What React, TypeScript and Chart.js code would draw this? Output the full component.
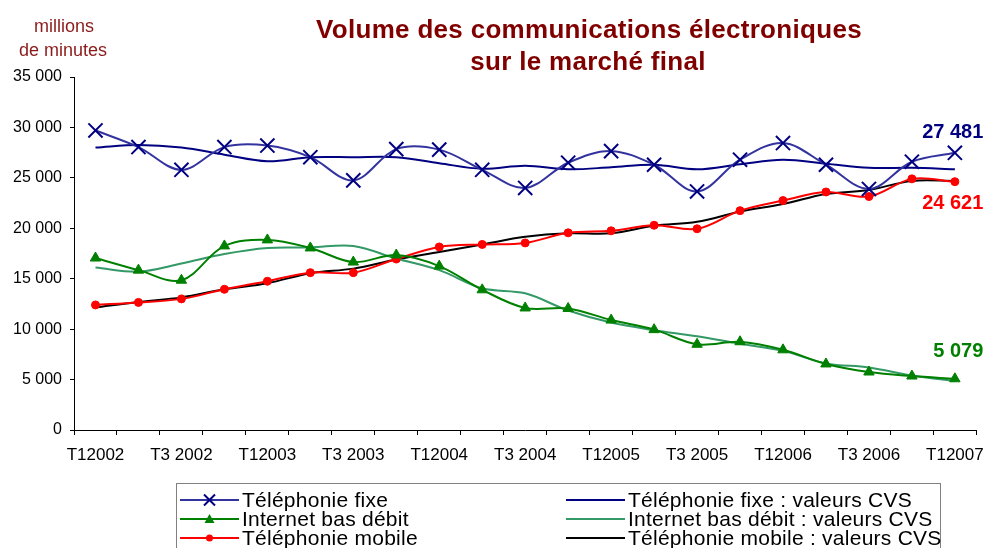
import { useEffect, useRef } from "react";
import { Chart, registerables } from "chart.js";
Chart.register(...registerables);

const categories = [
  "T1 2002", "T2 2002", "T3 2002", "T4 2002",
  "T1 2003", "T2 2003", "T3 2003", "T4 2003",
  "T1 2004", "T2 2004", "T3 2004", "T4 2004",
  "T1 2005", "T2 2005", "T3 2005", "T4 2005",
  "T1 2006", "T2 2006", "T3 2006", "T4 2006",
  "T1 2007",
];
const tickLabels = [
  "T12002", "T3 2002", "T12003", "T3 2003", "T12004", "T3 2004",
  "T12005", "T3 2005", "T12006", "T3 2006", "T12007",
];

const fixe = [29700, 28050, 25800, 28050, 28200, 27050, 24750, 27850, 27800, 25800, 24000, 26500, 27650, 26300, 23650, 26800, 28450, 26300, 23900, 26600, 27481];
const fixeCVS = [28000, 28250, 28000, 27300, 26650, 27050, 27050, 27050, 26450, 25900, 26200, 25850, 26050, 26300, 25850, 26350, 26800, 26400, 26000, 26000, 25850];
const internet = [17050, 15850, 14850, 18250, 18850, 18050, 16650, 17350, 16250, 13900, 12100, 12050, 10900, 9950, 8500, 8750, 7950, 6550, 5750, 5350, 5079];
const internetCVS = [16100, 15700, 16500, 17450, 18050, 18100, 18250, 17000, 15850, 14050, 13550, 11850, 10650, 9900, 9300, 8550, 7850, 6600, 6200, 5400, 4850];
const mobile = [12400, 12650, 13000, 13950, 14750, 15600, 15600, 16950, 18150, 18400, 18550, 19550, 19750, 20300, 19950, 21750, 22750, 23600, 23150, 24900, 24621];
const mobileCVS = [12150, 12700, 13150, 13950, 14550, 15550, 16000, 16900, 17650, 18400, 19150, 19500, 19500, 20250, 20650, 21650, 22400, 23400, 23800, 24700, 24700];

const titleLines = ["Volume des communications électroniques", "sur le marché final"];
const unitLines = ["millions", "de minutes"];
const endLabels = [
  { text: "27 481", series: fixe, color: "#000080", dy: -20 },
  { text: "24 621", series: mobile, color: "#FF0000", dy: 22 },
  { text: "5 079", series: internet, color: "#008000", dy: -27 },
];

const FONT = "'Liberation Sans', Arial, Helvetica, sans-serif";

const fmt = (v: number) => {
  if (v === 0) return "0";
  const s = String(Math.round(v));
  return s.replace(/\B(?=(\d{3})+(?!\d))/g, " ");
};

type LegendItem = { label: string; color: string; marker: "cross" | "triangle" | "circle" | null; markerColor?: string };
const legendItems: LegendItem[] = [
  { label: "Téléphonie fixe", color: "#3333A0", marker: "cross", markerColor: "#000080" },
  { label: "Internet bas débit", color: "#008000", marker: "triangle", markerColor: "#008000" },
  { label: "Téléphonie mobile", color: "#FF0000", marker: "circle", markerColor: "#FF0000" },
  { label: "Téléphonie fixe : valeurs CVS", color: "#000080", marker: null },
  { label: "Internet bas débit : valeurs CVS", color: "#339966", marker: null },
  { label: "Téléphonie mobile : valeurs CVS", color: "#000000", marker: null },
];

export default function App() {
  const ref = useRef<HTMLCanvasElement>(null);

  useEffect(() => {
    if (!ref.current) return;
    Chart.defaults.font.family = FONT;

    const overlay = {
      id: "overlay",
      afterDraw(chart: any) {
        const ctx: CanvasRenderingContext2D = chart.ctx;
        const ys = chart.scales.y;
        ctx.save();

        // Title
        ctx.fillStyle = "#800000";
        ctx.font = `bold 26px ${FONT}`;
        (ctx as any).letterSpacing = "0.3px";
        ctx.textAlign = "center";
        ctx.textBaseline = "alphabetic";
        ctx.fillText(titleLines[0], 589, 38);
        ctx.fillText(titleLines[1], 588, 70);
        (ctx as any).letterSpacing = "0px";

        // Units
        ctx.fillStyle = "#8B1A1A";
        ctx.font = `18px ${FONT}`;
        ctx.fillText(unitLines[0], 64, 32);
        ctx.fillText(unitLines[1], 63, 56);

        // End labels
        ctx.font = `bold 20px ${FONT}`;
        ctx.textAlign = "right";
        ctx.textBaseline = "middle";
        for (const l of endLabels) {
          const last = l.series.length - 1;
          const py = ys.getPixelForValue(l.series[last]);
          ctx.fillStyle = l.color;
          ctx.fillText(l.text, chart.chartArea.right + 7, py + l.dy);
        }

        // Legend
        const boxL = 176.5, boxT = 483.5, boxR = 940.5;
        ctx.strokeStyle = "#808080";
        ctx.lineWidth = 1;
        ctx.strokeRect(boxL, boxT, boxR - boxL, 100);
        const rows = [500, 519, 538];
        const cols = [{ l0: 180, l1: 239, tx: 242 }, { l0: 566, l1: 625, tx: 628 }];
        ctx.font = `21px ${FONT}`;
        (ctx as any).letterSpacing = "0.25px";
        ctx.textAlign = "left";
        ctx.textBaseline = "middle";
        legendItems.forEach((it, i) => {
          const c = cols[Math.floor(i / 3)];
          const y = rows[i % 3];
          ctx.strokeStyle = it.color;
          ctx.lineWidth = 2;
          ctx.beginPath();
          ctx.moveTo(c.l0, y);
          ctx.lineTo(c.l1, y);
          ctx.stroke();
          const cx = (c.l0 + c.l1) / 2;
          if (it.marker === "cross") {
            ctx.strokeStyle = it.markerColor!;
            ctx.lineWidth = 2;
            const r = 5.5;
            ctx.beginPath();
            ctx.moveTo(cx - r, y - r); ctx.lineTo(cx + r, y + r);
            ctx.moveTo(cx + r, y - r); ctx.lineTo(cx - r, y + r);
            ctx.stroke();
          } else if (it.marker === "triangle") {
            ctx.fillStyle = it.markerColor!;
            ctx.beginPath();
            ctx.moveTo(cx, y - 5);
            ctx.lineTo(cx + 5, y + 4);
            ctx.lineTo(cx - 5, y + 4);
            ctx.closePath();
            ctx.fill();
          } else if (it.marker === "circle") {
            ctx.fillStyle = it.markerColor!;
            ctx.beginPath();
            ctx.arc(cx, y, 3.5, 0, Math.PI * 2);
            ctx.fill();
          }
          ctx.fillStyle = "#000";
          ctx.fillText(it.label, c.tx, y + 1);
        });
        (ctx as any).letterSpacing = "0px";

        ctx.restore();
      },
    };

    const chart = new Chart(ref.current, {
      type: "line",
      data: {
        labels: categories,
        datasets: [
          {
            label: legendItems[0].label, data: fixe, borderColor: "#3333A0", borderWidth: 2,
            pointStyle: "crossRot", pointRadius: 10, pointBorderColor: "#000080", pointBorderWidth: 2,
            pointBackgroundColor: "#000080", tension: 0.35, order: 0,
          },
          {
            label: legendItems[1].label, data: internet, borderColor: "#008000", borderWidth: 2,
            pointStyle: "triangle", pointRadius: 6, pointBorderColor: "#008000", pointBorderWidth: 1,
            pointBackgroundColor: "#008000", tension: 0.35, order: 1,
          },
          {
            label: legendItems[2].label, data: mobile, borderColor: "#FF0000", borderWidth: 2,
            pointStyle: "circle", pointRadius: 4, pointBorderColor: "#FF0000", pointBorderWidth: 1,
            pointBackgroundColor: "#FF0000", tension: 0.35, order: 2,
          },
          {
            label: legendItems[3].label, data: fixeCVS, borderColor: "#000080", borderWidth: 2,
            pointRadius: 0, tension: 0.35, order: 3,
          },
          {
            label: legendItems[4].label, data: internetCVS, borderColor: "#339966", borderWidth: 2,
            pointRadius: 0, tension: 0.35, order: 4,
          },
          {
            label: legendItems[5].label, data: mobileCVS, borderColor: "#000000", borderWidth: 2,
            pointRadius: 0, tension: 0.35, order: 5,
          },
        ],
      },
      options: {
        responsive: false,
        animation: false,
        events: [],
        layout: { padding: { left: 0, right: 10, top: 77, bottom: 0 } },
        plugins: {
          legend: { display: false },
          title: { display: false },
          tooltip: { enabled: false },
        },
        scales: {
          x: {
            type: "category",
            offset: true,
            afterFit: (s: any) => { s.height = 118; },
            grid: { offset: true, drawOnChartArea: false, drawTicks: true, tickLength: 5, color: "#000" },
            border: { display: true, color: "#000", width: 1 },
            ticks: {
              autoSkip: false, maxRotation: 0, minRotation: 0, padding: 10,
              color: "#000", font: { size: 17, family: FONT },
              callback: (_v: any, i: number) => (i % 2 === 0 ? tickLabels[i / 2] : ""),
            },
          },
          y: {
            min: 0, max: 35000,
            afterFit: (s: any) => { s.width = 74; },
            grid: { drawOnChartArea: false, drawTicks: true, tickLength: 4, color: "#000" },
            border: { display: true, color: "#000", width: 1 },
            ticks: {
              stepSize: 5000, padding: 8, color: "#000", font: { size: 16, family: FONT },
              callback: (v: any) => fmt(Number(v)),
            },
          },
        },
      },
      plugins: [overlay],
    } as any);

    return () => chart.destroy();
  }, []);

  return (
    <div style={{ position: "fixed", left: 0, top: 0, width: 994, height: 548, background: "#fff" }}>
      <canvas ref={ref} width={994} height={548} style={{ display: "block", width: 994, height: 548 }} />
    </div>
  );
}
